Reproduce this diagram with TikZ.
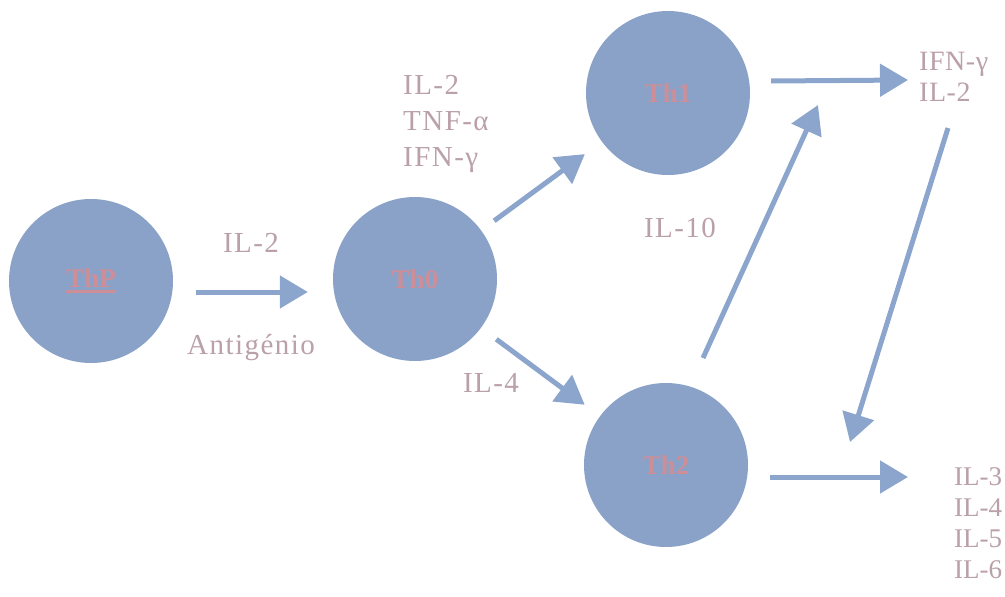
\documentclass[tikz,border=0pt]{standalone}
\usepackage{fontspec}
\setmainfont{Liberation Serif}
\usetikzlibrary{arrows.meta}
\definecolor{cellblue}{RGB}{138,162,199}
\definecolor{arrowblue}{RGB}{140,165,204}
\definecolor{lbltext}{RGB}{186,160,168}
\definecolor{celltext}{RGB}{206,142,152}
\newcommand\myuline[1]{\setbox0\hbox{#1}\rlap{\color{celltext}\rule[-5pt]{\wd0}{2.4pt}}\box0}
\tikzset{
  cell/.style={circle, fill=cellblue, draw=none, minimum size=164pt, inner sep=0pt,
    text=celltext, font=\fontsize{27}{30}\selectfont\bfseries},
  lbl/.style={text=lbltext, inner sep=0pt,
    font=\fontsize{29}{31}\selectfont\addfontfeatures{LetterSpace=5}},
  arr/.style={draw=arrowblue, line width=5pt, -{Triangle[length=28pt,width=32pt]}},
}
\begin{document}
\begin{tikzpicture}[x=1pt,y=-1pt]
\useasboundingbox (0,0) rectangle (1005,597);
% cells
\node[cell] (ThP) at (91,281) {\myuline{ThP}};
\node[cell] (Th0) at (415,279) {Th0};
\node[cell] (Th1) at (668,93) {Th1};
\node[cell] (Th2) at (666,465) {Th2};
% labels
\node[lbl] (il2a) at (251,243) {IL-2};
\node[lbl] (antig) at (251,348) {Antigénio};
\node[lbl, align=left, anchor=west, font=\fontsize{29}{36}\selectfont\addfontfeatures{LetterSpace=5}] (th1cyt) at (403,124) {IL-2\\TNF-α\\IFN-γ};
\node[lbl] (il10) at (680,228) {IL-10};
\node[lbl] (il4) at (491,383) {IL-4};
\node[lbl, align=left, anchor=west, font=\fontsize{28}{31}\selectfont\addfontfeatures{LetterSpace=2}] (ifn) at (919,77) {IFN-γ\\IL-2};
\node[lbl, align=left, anchor=west, font=\fontsize{27}{31}\selectfont] (th2cyt) at (954,523) {IL-3\\IL-4\\IL-5\\IL-6};
% free ends
\coordinate (up) at (818,105);
\coordinate (down) at (850,442);
% arrows
\draw[arr] ([shift={(23,11)}]ThP.east) -- ([shift={(-25,13)}]Th0.west);
\draw[arr, shorten <=16pt, shorten >=21pt] (Th0) -- (Th1);
\draw[arr, shorten <=19pt, shorten >=19pt] (Th0) -- (Th2);
\draw[arr] ([shift={(21,-12)}]Th1.east) -- ([shift={(-11,3)}]ifn.west);
\draw[arr] ([shift={(37,-107)}]Th2.center) -- (up);
\draw[arr] ([shift={(29,51)}]ifn.west) -- (down);
\draw[arr] ([shift={(22,12)}]Th2.east) -- ([shift={(-46,-46)}]th2cyt.west);
\end{tikzpicture}
\end{document}
